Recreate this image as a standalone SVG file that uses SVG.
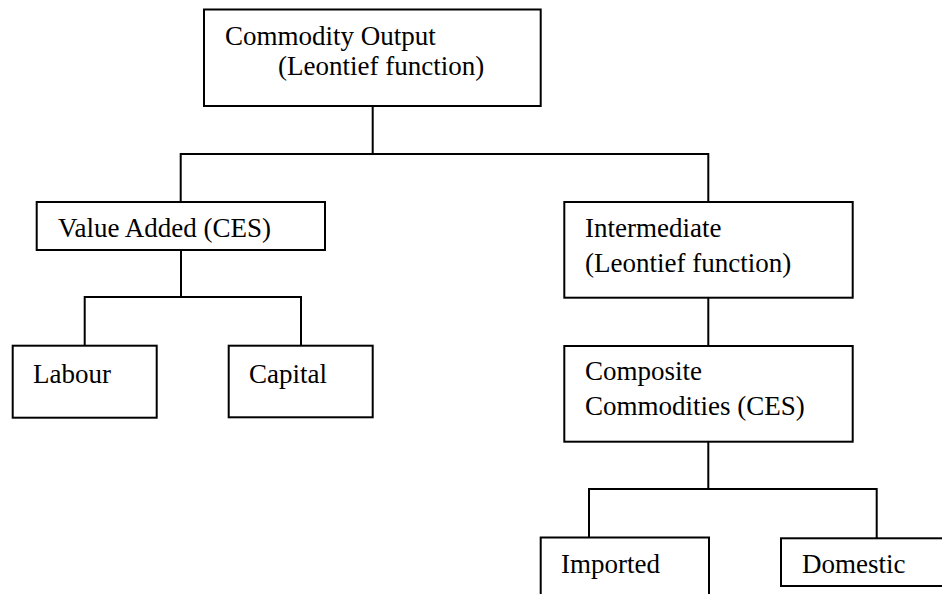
<svg xmlns="http://www.w3.org/2000/svg" width="942" height="594" viewBox="0 0 942 594">
<style>
.box{fill:#fff;stroke:#000;stroke-width:2}
.ln{fill:none;stroke:#000;stroke-width:2}
.t{font-family:'Liberation Serif','Times New Roman',serif;font-size:27px;fill:#000}
</style>
<rect width="942" height="594" fill="#fff"/>
<g id="connectors">
<path class="ln" d="M372.7,106 V154 M180.7,202 V154 H708.3 V202"/>
<path class="ln" d="M181,250 V297 M84.7,345 V297 H301 V345"/>
<path class="ln" d="M708.3,298 V346"/>
<path class="ln" d="M708.3,442 V489 M589,538 V489 H876.7 V538"/>
</g>
<g id="commodity-output">
<rect class="box" x="204" y="9.5" width="336.7" height="96.5"/>
<text class="t" x="225" y="45" font-family="Liberation Serif, serif">Commodity Output</text>
<text class="t" x="278" y="75" font-family="Liberation Serif, serif">(Leontief function)</text>
</g>
<g id="value-added">
<rect class="box" x="36.7" y="202" width="288.3" height="48"/>
<text class="t" x="58" y="237" font-family="Liberation Serif, serif">Value Added (CES)</text>
</g>
<g id="intermediate">
<rect class="box" x="564.3" y="202" width="288.4" height="95.7"/>
<text class="t" x="585" y="237" font-family="Liberation Serif, serif">Intermediate</text>
<text class="t" x="585" y="272" font-family="Liberation Serif, serif">(Leontief function)</text>
</g>
<g id="labour">
<rect class="box" x="12.7" y="345.7" width="144" height="72"/>
<text class="t" x="33" y="383" font-family="Liberation Serif, serif">Labour</text>
</g>
<g id="capital">
<rect class="box" x="228.7" y="345.7" width="144" height="71.6"/>
<text class="t" x="249" y="383" font-family="Liberation Serif, serif">Capital</text>
</g>
<g id="composite">
<rect class="box" x="564.3" y="346" width="288.4" height="95.7"/>
<text class="t" x="585" y="380" font-family="Liberation Serif, serif">Composite</text>
<text class="t" x="585" y="415" font-family="Liberation Serif, serif">Commodities (CES)</text>
</g>
<g id="imported">
<rect class="box" x="540.7" y="537.5" width="168.3" height="70"/>
<text class="t" x="561" y="573" font-family="Liberation Serif, serif">Imported</text>
</g>
<g id="domestic">
<rect class="box" x="781" y="538.3" width="180" height="47.7"/>
<text class="t" x="802" y="573" font-family="Liberation Serif, serif">Domestic</text>
</g>
</svg>
